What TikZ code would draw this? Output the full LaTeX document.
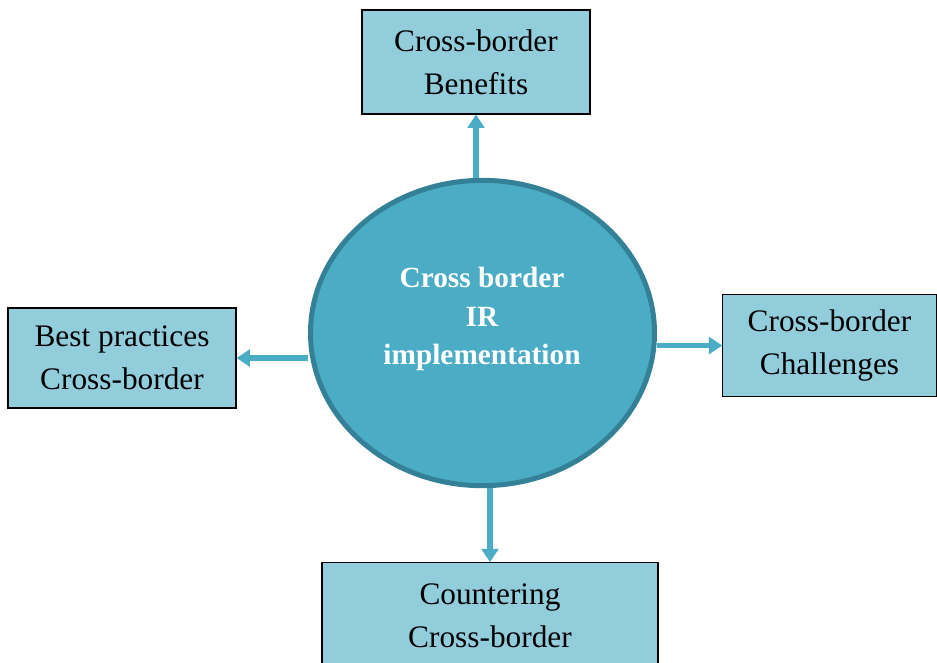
\documentclass[tikz,border=0pt]{standalone}
\usepackage{fontspec}
\setmainfont{Liberation Serif}
\usetikzlibrary{calc, arrows.meta, shapes.geometric}

\definecolor{circfill}{RGB}{75,172,198}
\definecolor{circline}{RGB}{52,128,150}
\definecolor{boxfill}{RGB}{146,205,220}

\tikzset{
    box/.style={draw=black, fill=boxfill, line width=0.8pt, align=center, inner sep=0pt,
        font=\fontsize{23.5}{32}\selectfont},
    arr/.style={draw=circfill, line width=4pt, -{Triangle[width=12.5pt,length=10pt]}}
}

\begin{document}
\begin{tikzpicture}[x=0.75pt, y=-0.75pt]
    \useasboundingbox (0,0) rectangle (937,662);

    \node[ellipse, draw=circline, fill=circfill, line width=3.75pt,
        minimum width=258pt, minimum height=229pt] (ell) at (482.5,333) {};
    \node[text=white, align=center, font=\bfseries\fontsize{22}{29}\selectfont] (ellText) at (482,319)
        {Cross border\\IR\\implementation};

    \node[box, minimum width=171pt, minimum height=78pt] (benefits) at (476,62) {Cross-border\\Benefits};
    \node[box, minimum width=171pt, minimum height=75pt] (practices) at (122,358) {Best practices\\Cross-border};
    \node[box, minimum width=160pt, minimum height=76pt] (challenges) at (829.5,345.5) {Cross-border\\Challenges};
    \node[box, minimum width=252pt, minimum height=80pt] (countering) at (490,616) {Countering\\Cross-border};

    % arrows out of the circle
    \draw[arr] (ell.north -| benefits.south) -- (benefits.south);
    \draw[arr] (ell.west |- practices.east) -- (practices.east);
    \draw[arr] (ell.east |- challenges.west) -- (challenges.west);
    \draw[arr] (ell.south -| countering.north) -- (countering.north);
\end{tikzpicture}
\end{document}
